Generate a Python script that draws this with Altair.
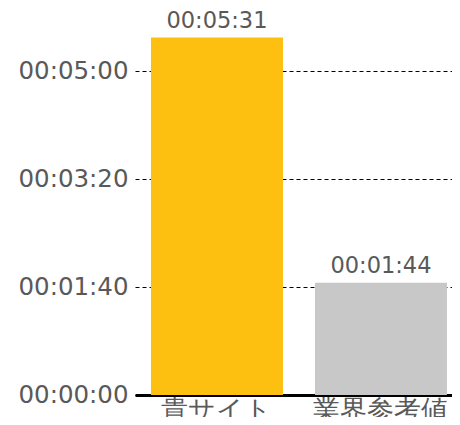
import altair as alt
import pandas as pd

categories = ["貴サイト", "業界参考値"]
seconds = [331, 104]
colors = ["#FDC010", "#C8C8C8"]

df = pd.DataFrame({"cat": categories, "sec": seconds, "color": colors})

FONT = "DejaVu Sans"
GRAY = "#595959"

base = alt.Chart(df)

bars = base.mark_bar().encode(
    x=alt.X("cat:N", sort=categories,
            scale=alt.Scale(paddingInner=0.195, paddingOuter=0.064, align=0.76),
            axis=alt.Axis(title=None, labelAngle=0, labelFontSize=27, labelColor=GRAY,
                          labelFont=FONT, domainColor="black", domainWidth=3,
                          ticks=True, tickColor="white", tickSize=2, tickWidth=1,
                          labelPadding=0)),
    y=alt.Y("sec:Q", scale=alt.Scale(domain=[0, 342.6], nice=False),
            axis=alt.Axis(title=None, values=[0, 100, 200, 300],
                          labelExpr="utcFormat(datum.value*1000, '%H:%M:%S')",
                          labelFontSize=24.5, labelColor=GRAY, labelFont=FONT,
                          domain=False, ticks=False, labelPadding=7,
                          grid=True, gridColor="black", gridDash=[4, 3], gridWidth=1)),
    color=alt.Color("color:N", scale=None),
)

labels = base.transform_calculate(
    lab="utcFormat(datum.sec*1000, '%H:%M:%S')"
).mark_text(dy=-17, fontSize=22.5, color=GRAY, font=FONT).encode(
    x=alt.X("cat:N", sort=categories),
    y=alt.Y("sec:Q"),
    text="lab:N",
)

chart = alt.layer(bars, labels).properties(
    width=317, height=370,
    autosize=alt.AutoSizeParams(type="none"),
    padding={"left": 127, "top": 17, "right": 0, "bottom": 22},
).configure_view(stroke=None)

chart.save("out.html", embed_options={"renderer": "svg", "actions": False})
